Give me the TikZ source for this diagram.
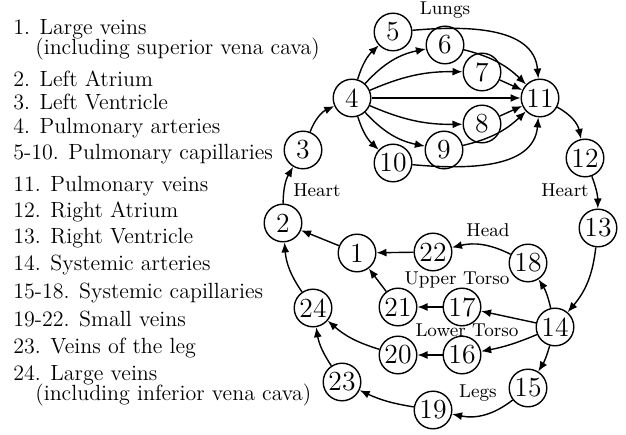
\documentclass[tikz,border=0pt]{standalone}
\usetikzlibrary{arrows.meta}
\begin{document}
\begin{tikzpicture}[x=0.5pt,y=0.5pt,>={Latex[length=5pt,width=4pt]},
  vessel/.style={circle,draw,line width=0.7pt,minimum size=18.8pt,inner sep=0pt,font=\fontsize{13.8}{16}\selectfont},
  flow/.style={->,line width=0.7pt},
  region/.style={inner sep=0pt,font=\fontsize{9.3}{11}\selectfont},
  legend/.style={anchor=base west,inner sep=0pt,font=\fontsize{11}{13}\selectfont}]
\useasboundingbox (0,0) rectangle (626,434);
% key to the numbers
\foreach \y/\t [count=\i] in {399/{1. Large veins},379.5/{\quad(including superior vena cava)},
  347/{2. Left Atrium},324/{3. Left Ventricle},300/{4. Pulmonary arteries},
  274/{5-10. Pulmonary capillaries},242.5/{11. Pulmonary veins},216.5/{12. Right Atrium},
  190.7/{13. Right Ventricle},163/{14. Systemic arteries},135/{15-18. Systemic capillaries},
  108/{19-22. Small veins},81/{23. Veins of the leg},53.5/{24. Large veins},
  34/{\quad(including inferior vena cava)}}
  \node[legend] (key\i) at (13,\y) {\t};
% vessels
\foreach \n/\x/\y in {1/357/181,2/283/211,3/303/284,4/352/336,5/393/402,6/445/389,
  7/482/362,8/482/310,9/444/284,10/393/271,11/540/336,12/585/276,13/598/206,
  14/555/107,15/528/46,16/462/79,17/462/127,18/528/171,19/433/24,20/398/79,
  21/398/127,22/433/182,23/342/52,24/313/126}
  \node[vessel] (v\n) at (\x,\y) {\n};
% regions
\node[region] (lungs) at (445,424) {Lungs};
\node[region] (heartl) at (317,244) {Heart};
\node[region] (heartr) at (565,244) {Heart};
\node[region] (head) at (488,204) {Head};
\node[region] (upper) at (457,154) {Upper Torso};
\node[region] (lower) at (467,104) {Lower Torso};
\node[region] (legs) at (478,41) {Legs};
% blood flow
\foreach \a/\b/\s in {2/3/15,3/4/22,4/5/15,4/6/18,4/7/12,4/11/0,4/8/-12,4/9/-18,4/10/-15,
  6/11/15,7/11/0,8/11/0,9/11/-15,11/12/25,12/13/10,13/14/17,14/18/-10,18/22/-20,
  22/1/0,1/2/0,14/17/0,17/21/0,21/1/0,14/16/6,16/20/0,20/24/12,24/2/15,
  14/15/8,15/19/25,19/23/8,23/24/12}
  \draw[flow] (v\a) to[bend left=\s] (v\b);
\draw[flow] (v5) to[out=5,in=95] (v11);
\draw[flow] (v10) to[out=-5,in=-95] (v11);
\end{tikzpicture}
\end{document}
